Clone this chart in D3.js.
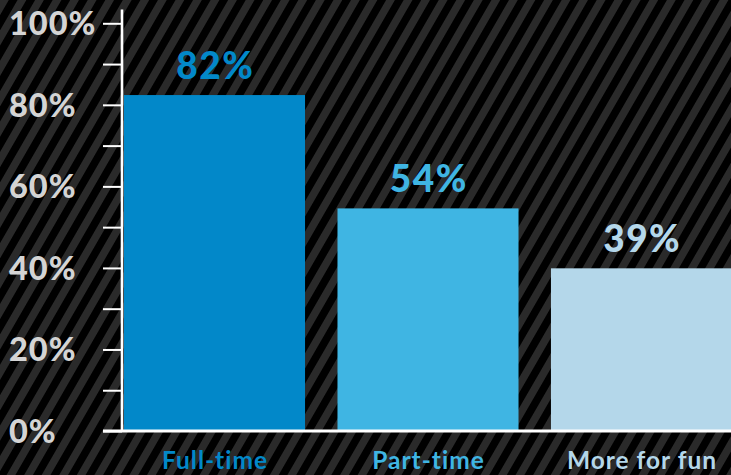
<!DOCTYPE html>
<html>
<head>
<meta charset="utf-8">
<script src="https://cdn.jsdelivr.net/npm/d3@7"></script>
<style>
html,body{margin:0;padding:0;background:#000;}
svg{display:block;}
</style>
</head>
<body>
<svg id="chart" width="731" height="475"></svg>
<script>
const categories = ["Full-time", "Part-time", "More for fun"];
const values = [82.4, 54.6, 39.9];
const valueLabels = ["82%", "54%", "39%"];
const tickValues = [0, 20, 40, 60, 80, 100];
const tickLabels = ["0%", "20%", "40%", "60%", "80%", "100%"];
const colors = ["#0288c9", "#3fb5e3", "#b4d7ea"];

const W = 731, H = 475;
const svg = d3.select("#chart");
const defs = svg.append("defs");
const pat = defs.append("pattern")
  .attr("id", "stripes")
  .attr("patternUnits", "userSpaceOnUse")
  .attr("width", 15.2).attr("height", 15.2)
  .attr("patternTransform", "rotate(30)");
pat.append("rect").attr("width", 15.2).attr("height", 15.2).attr("fill", "#000");
pat.append("rect").attr("width", 7.6).attr("height", 15.2).attr("fill", "#2a2a2a");

svg.append("rect").attr("width", W).attr("height", H).attr("fill", "url(#stripes)");

const y = d3.scaleLinear().domain([0, 100]).range([431, 23.3]);
const x = d3.scaleBand().domain(categories).range([124, 732]).paddingInner(0.152).paddingOuter(0);

// bars
svg.append("g").selectAll("rect").data(categories).join("rect")
  .attr("x", d => x(d))
  .attr("width", x.bandwidth())
  .attr("y", (d, i) => y(values[i]))
  .attr("height", (d, i) => y(0) - y(values[i]))
  .attr("fill", (d, i) => colors[i]);

// value labels
const vls = 1.5;
svg.append("g").selectAll("text").data(categories).join("text")
  .attr("x", d => x(d) + x.bandwidth() / 2 + vls / 2)
  .attr("y", (d, i) => y(values[i]) - 16)
  .attr("text-anchor", "middle")
  .attr("font-family", "Lato, sans-serif")
  .attr("font-weight", 900)
  .attr("font-size", 37)
  .attr("letter-spacing", vls)
  .attr("fill", (d, i) => colors[i])
  .text((d, i) => valueLabels[i]);

// category labels
const cls = 1.0;
svg.append("g").selectAll("text").data(categories).join("text")
  .attr("x", d => x(d) + x.bandwidth() / 2 + cls / 2)
  .attr("y", 469)
  .attr("text-anchor", "middle")
  .attr("font-family", "Lato, sans-serif")
  .attr("font-weight", 700)
  .attr("font-size", 24.5)
  .attr("letter-spacing", cls)
  .attr("fill", (d, i) => colors[i])
  .text(d => d);

// y axis
const minorTicks = d3.range(0, 101, 10);
const yAxis = d3.axisLeft(y).tickValues(minorTicks).tickSize(19).tickFormat("");
const gAxis = svg.append("g").attr("transform", "translate(122,0)").call(yAxis);
gAxis.select(".domain").remove();
gAxis.selectAll(".tick line").attr("stroke", "#fff").attr("stroke-width", 2);
gAxis.append("line").attr("x1", 0).attr("x2", 0).attr("y1", 9.5).attr("y2", 432)
  .attr("stroke", "#fff").attr("stroke-width", 2.6);

// tick labels
svg.append("g").selectAll("text").data(tickValues).join("text")
  .attr("x", 9)
  .attr("y", d => y(d))
  .attr("dy", "0.36em")
  .attr("font-family", "Lato, sans-serif")
  .attr("font-weight", 900)
  .attr("font-size", 32.5)
  .attr("letter-spacing", 1)
  .attr("fill", "#d4d4d4")
  .text((d, i) => tickLabels[i]);

// baseline
svg.append("line").attr("x1", 103).attr("x2", W).attr("y1", y(0)).attr("y2", y(0))
  .attr("stroke", "#fff").attr("stroke-width", 3);
</script>
</body>
</html>
